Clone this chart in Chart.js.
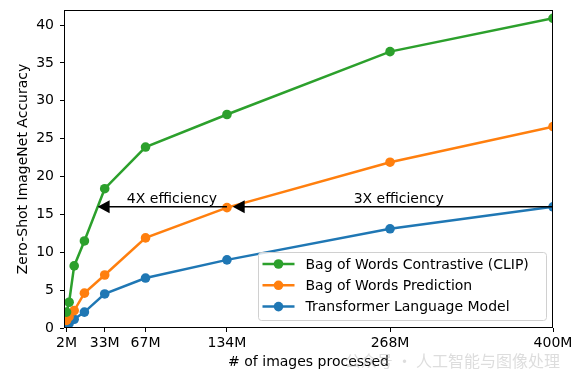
<!DOCTYPE html>
<html>
<head>
<meta charset="utf-8">
<script src="https://cdn.jsdelivr.net/npm/chart.js@4.4.1/dist/chart.umd.min.js"></script>
<style>
  body { margin: 0; background: #fff; }
  #wrap { width: 579px; height: 385px; position: relative; }
</style>
</head>
<body>
<div id="wrap"><canvas id="canvas"></canvas></div>
<script>
// images processed (millions)
const imagesM = [2.08, 4.17, 8.33, 16.7, 33.3, 66.7, 133.3, 266.7, 400];
const clipAcc = [2.1, 3.4, 8.2, 11.5, 18.4, 23.9, 28.2, 36.5, 40.9];
const bowPredAcc = [1.0, 1.5, 2.3, 4.6, 7.0, 11.9, 15.9, 21.9, 26.6];
const transformerAcc = [0.3, 0.6, 1.15, 2.1, 4.5, 6.6, 9.0, 13.1, 16.0];

const seriesNames = ['Bag of Words Contrastive (CLIP)', 'Bag of Words Prediction', 'Transformer Language Model'];
const seriesColors = ['#2ca02c', '#ff7f0e', '#1f77b4'];

const xTickValues = [2.08, 33.3, 66.7, 133.3, 266.7, 400];
const xTickLabels = ['2M', '33M', '67M', '134M', '268M', '400M'];
const yTickValues = [0, 5, 10, 15, 20, 25, 30, 35, 40];

// efficiency arrows: from x, to x (tip), at y, label and label position
const arrowFrom = [133.3, 400];
const arrowTo = [27.5, 138];
const arrowY = [16, 16];
const arrowLabels = ['4X efficiency', '3X efficiency'];
const arrowLabelX = [88.3, 273.8];

const watermark = '公众号 · 人工智能与图像处理';

Chart.defaults.font.family = 'DejaVu Sans';
Chart.defaults.font.size = 14;
Chart.defaults.color = '#000';

function toPoints(ys) {
    return imagesM.map((x, i) => ({ x: x, y: ys[i] }));
}

const allSeries = [clipAcc, bowPredAcc, transformerAcc];
const datasets = allSeries.map((ys, i) => ({
    label: seriesNames[i],
    data: toPoints(ys),
    borderColor: seriesColors[i],
    backgroundColor: seriesColors[i],
    borderWidth: 2.5,
    pointRadius: 4.8,
    pointHoverRadius: 4.8,
    pointBorderWidth: 0,
    tension: 0,
}));

const extras = {
    id: 'extras',
    afterDatasetsDraw(chart) {
        const ctx = chart.ctx;
        const a = chart.chartArea;
        const xs = chart.scales.x, ys = chart.scales.y;
        ctx.save();

        // frame
        ctx.strokeStyle = '#000';
        ctx.lineWidth = 1;
        ctx.strokeRect(a.left + 0.5, a.top + 0.5, a.right - a.left - 1, a.bottom - a.top - 1);

        // arrows
        ctx.fillStyle = '#000';
        ctx.lineWidth = 1.5;
        for (let i = 0; i < arrowFrom.length; i++) {
            const x1 = xs.getPixelForValue(arrowFrom[i]);
            const x2 = xs.getPixelForValue(arrowTo[i]);
            const y = ys.getPixelForValue(arrowY[i]);
            ctx.beginPath();
            ctx.moveTo(x1, y);
            ctx.lineTo(x2 + 10, y);
            ctx.stroke();
            ctx.beginPath();
            ctx.moveTo(x2, y);
            ctx.lineTo(x2 + 12, y - 6.5);
            ctx.lineTo(x2 + 12, y + 6.5);
            ctx.closePath();
            ctx.fill();
            ctx.font = '14px "DejaVu Sans"';
            ctx.textAlign = 'center';
            ctx.textBaseline = 'alphabetic';
            ctx.fillText(arrowLabels[i], xs.getPixelForValue(arrowLabelX[i]), y - 4);
        }

        // legend box
        const w = 288, h = 68;
        const x0 = a.right - 6.5 - w, y0 = a.bottom - 7.5 - h;
        ctx.beginPath();
        ctx.roundRect(x0, y0, w, h, 3);
        ctx.fillStyle = 'rgba(255,255,255,0.8)';
        ctx.fill();
        ctx.strokeStyle = '#d0d0d0';
        ctx.lineWidth = 1;
        ctx.stroke();
        ctx.textAlign = 'left';
        ctx.textBaseline = 'middle';
        for (let i = 0; i < seriesNames.length; i++) {
            const cy = y0 + 11.5 + i * 21.3;
            ctx.strokeStyle = seriesColors[i];
            ctx.fillStyle = seriesColors[i];
            ctx.lineWidth = 2.5;
            ctx.beginPath();
            ctx.moveTo(x0 + 4, cy);
            ctx.lineTo(x0 + 36, cy);
            ctx.stroke();
            ctx.beginPath();
            ctx.arc(x0 + 20, cy, 4.8, 0, Math.PI * 2);
            ctx.fill();
            ctx.fillStyle = '#000';
            ctx.fillText(seriesNames[i], x0 + 47, cy + 1);
        }
        ctx.restore();
    },
    afterDraw(chart) {
        const ctx = chart.ctx;
        ctx.save();
        ctx.font = '16px "Noto Sans CJK SC"';
        ctx.fillStyle = 'rgba(170,170,170,0.4)';
        ctx.textAlign = 'right';
        ctx.textBaseline = 'middle';
        ctx.fillText(watermark, 560, 361);
        ctx.restore();
    }
};

const canvas = document.getElementById('canvas');
const chart = new Chart(canvas, {
    type: 'line',
    data: { datasets: datasets },
    options: {
        responsive: true,
        maintainAspectRatio: false,
        animation: false,
        layout: { padding: { top: 10, right: 26, left: 0, bottom: 0 } },
        plugins: { legend: { display: false }, tooltip: { enabled: false } },
        scales: {
            x: {
                type: 'linear',
                min: 0,
                max: 400,
                afterFit: s => { s.height = 57; s.paddingLeft = 0; s.paddingRight = 0; },
                afterBuildTicks: s => { s.ticks = xTickValues.map(v => ({ value: v })); },
                ticks: {
                    autoSkip: false,
                    maxRotation: 0,
                    padding: 3,
                    callback: (v, i) => xTickLabels[i],
                },
                grid: { drawOnChartArea: false, drawTicks: true, tickLength: 4, color: '#000' },
                border: { display: false },
                title: { display: true, text: '# of images processed', padding: { top: 0, bottom: 14 } },
            },
            y: {
                min: 0,
                max: 42,
                afterFit: s => { s.width = 64; s.paddingTop = 0; s.paddingBottom = 0; },
                afterBuildTicks: s => { s.ticks = yTickValues.map(v => ({ value: v })); },
                ticks: { autoSkip: false, padding: 6 },
                grid: { drawOnChartArea: false, drawTicks: true, tickLength: 4, color: '#000' },
                border: { display: false },
                title: { display: true, text: 'Zero-Shot ImageNet Accuracy', padding: { top: 14.6, bottom: 0 } },
            },
        },
    },
    plugins: [extras],
});
</script>
</body>
</html>
